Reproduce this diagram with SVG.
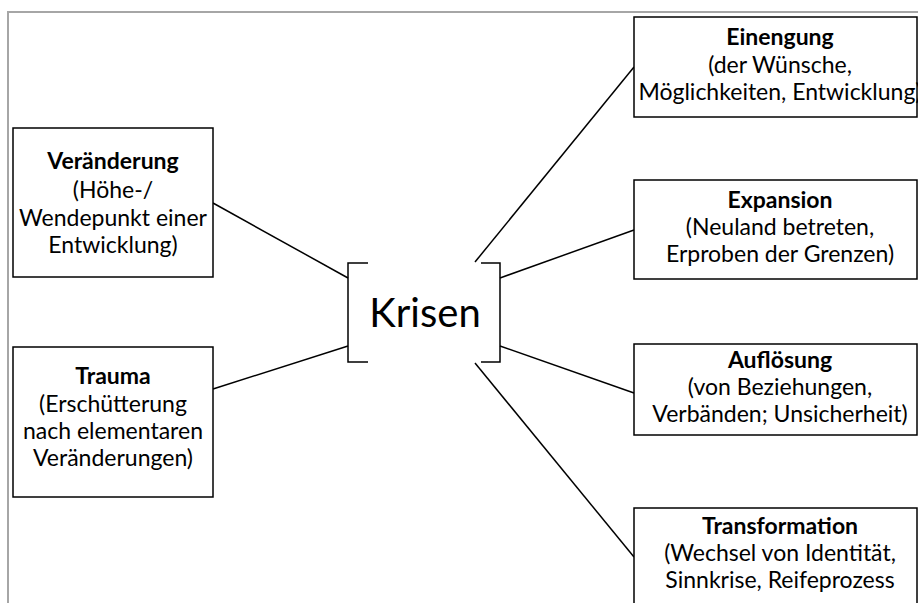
<svg xmlns="http://www.w3.org/2000/svg" width="918" height="603" viewBox="0 0 918 603">
<style>
.box{fill:#fff;stroke:#000;stroke-width:1.5}
.t{font-family:Lato,"Liberation Sans",sans-serif;font-size:23px;fill:#000;text-anchor:middle}
.b{font-weight:bold}
.c{stroke:#000;stroke-width:1.5;fill:none}
</style>
<rect width="918" height="603" fill="#fff"/>
<path d="M8,603 V12 H918" fill="none" stroke="#a6a6a6" stroke-width="2"/>
<g id="connectors">
<line class="c" x1="213" y1="203" x2="348" y2="278"/>
<line class="c" x1="213" y1="389" x2="348" y2="346"/>
<line class="c" x1="475" y1="262" x2="634" y2="67"/>
<line class="c" x1="500" y1="278" x2="634" y2="230"/>
<line class="c" x1="500" y1="346" x2="634" y2="393"/>
<line class="c" x1="475" y1="363" x2="634" y2="557"/>
</g>
<g id="krisen">
<path class="c" d="M368,263 H348 V362 H368"/>
<path class="c" d="M481,263 H500 V362 H481"/>
<text class="t" x="425" y="327" style="font-size:40px">Krisen</text>
</g>
<g id="veraenderung">
<rect class="box" x="13" y="128" width="200" height="149"/>
<text class="t b" x="113" y="169">Veränderung</text>
<text class="t" x="113" y="198">(Höhe-/</text>
<text class="t" x="113" y="226">Wendepunkt einer</text>
<text class="t" x="113" y="253">Entwicklung)</text>
</g>
<g id="trauma">
<rect class="box" x="13" y="347" width="200" height="150"/>
<text class="t b" x="113" y="384">Trauma</text>
<text class="t" x="113" y="412">(Erschütterung</text>
<text class="t" x="113" y="439">nach elementaren</text>
<text class="t" x="113" y="466">Veränderungen)</text>
</g>
<g id="einengung">
<rect class="box" x="634" y="17" width="283" height="100"/>
<text class="t b" x="780" y="45">Einengung</text>
<text class="t" x="780" y="73">(der Wünsche,</text>
<text class="t" x="780" y="100">Möglichkeiten, Entwicklung)</text>
</g>
<g id="expansion">
<rect class="box" x="634" y="180" width="283" height="99"/>
<text class="t b" x="780" y="208">Expansion</text>
<text class="t" x="780" y="235">(Neuland betreten,</text>
<text class="t" x="780" y="262">Erproben der Grenzen)</text>
</g>
<g id="aufloesung">
<rect class="box" x="634" y="344" width="283" height="91"/>
<text class="t b" x="780" y="368">Auflösung</text>
<text class="t" x="780" y="395">(von Beziehungen,</text>
<text class="t" x="780" y="422">Verbänden; Unsicherheit)</text>
</g>
<g id="transformation">
<rect class="box" x="634" y="508" width="283" height="110"/>
<text class="t b" x="780" y="534">Transformation</text>
<text class="t" x="780" y="561">(Wechsel von Identität,</text>
<text class="t" x="780" y="588">Sinnkrise, Reifeprozess</text>
</g>
</svg>
